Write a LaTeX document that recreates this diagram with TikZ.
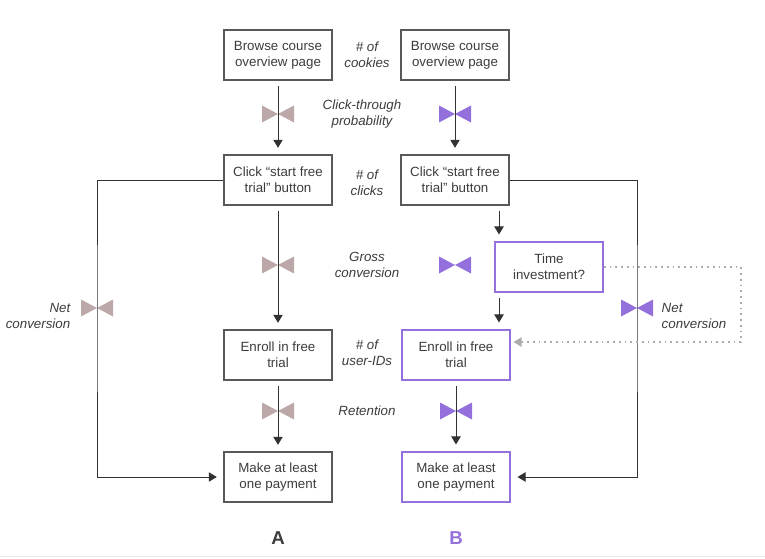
\documentclass[tikz,border=0pt]{standalone}
\usepackage{fontspec}
\setmainfont{Liberation Sans}
\definecolor{tiegray}{RGB}{188,168,168}
\definecolor{tiepurple}{RGB}{147,112,219}
\definecolor{txtgray}{RGB}{60,60,60}
\definecolor{linegray}{RGB}{50,50,50}
\usetikzlibrary{arrows.meta,calc}

\tikzset{
    box/.style={draw=black!65, line width=0.8pt, minimum width=81pt, minimum height=37.5pt, align=center, text=txtgray, font=\fontsize{10}{12}\selectfont},
    boxB/.style={box, draw=tiepurple, line width=1.3pt},
    metric/.style={align=center, text=txtgray, font=\fontsize{10}{12}\selectfont\itshape},
    arr/.style={draw=linegray, line width=0.75pt, -{Triangle[width=7pt,length=6pt]}},
    tie/.pic={\fill[#1] (-16,-8.5) -- (-16,8.5) -- (0,0) -- cycle (16,-8.5) -- (16,8.5) -- (0,0) -- cycle;}
}

\begin{document}
\begin{tikzpicture}[x=0.75pt, y=-0.75pt]
    \useasboundingbox (0,0) rectangle (765,558);
    \draw[black!8] (0,556) -- (765,556);

    % Bowties
    \pic at (278,114) {tie=tiegray};
    \pic at (278,265) {tie=tiegray};
    \pic at (278,411) {tie=tiegray};
    \pic at (97,308) {tie=tiegray};
    \pic at (455,114) {tie=tiepurple};
    \pic at (455,265) {tie=tiepurple};
    \pic at (456,411) {tie=tiepurple};
    \pic at (637,308) {tie=tiepurple};

    % Column A
    \node[box] (browseA) at (278,55) {Browse course\\overview page};
    \node[box] (clickA) at (278,180) {Click ``start free\\trial'' button};
    \node[box] (enrollA) at (278,355) {Enroll in free\\trial};
    \node[box] (makeA) at (278,477) {Make at least\\one payment};

    % Column B
    \node[box] (browseB) at (455,55) {Browse course\\overview page};
    \node[box] (clickB) at (455,180) {Click ``start free\\trial'' button};
    \node[boxB] (timeB) at (549,267) {Time\\investment?};
    \node[boxB] (enrollB) at (456,355) {Enroll in free\\trial};
    \node[boxB] (makeB) at (456,477) {Make at least\\one payment};

    % Metrics between the columns
    \node[metric] (cookies) at (367,55) {\# of\\cookies};
    \node[metric] (ctp) at (362,114) {Click-through\\probability};
    \node[metric] (clicks) at (367,183) {\# of\\clicks};
    \node[metric] (gross) at (367,265) {Gross\\conversion};
    \node[metric] (userids) at (367,353) {\# of\\user-IDs};
    \node[metric] (retention) at (367,411) {Retention};

    % Connections A
    \draw[arr, shorten <=4pt, shorten >=5pt] (browseA) -- (clickA);
    \draw[arr, shorten <=4pt, shorten >=5pt] (clickA) -- (enrollA);
    \draw[arr, shorten <=4pt, shorten >=5pt] (enrollA) -- (makeA);

    % Connections B
    \coordinate (tx) at (499,0);
    \draw[arr, shorten <=4pt, shorten >=5pt] (browseB) -- (clickB);
    \draw[arr, shorten <=4pt, shorten >=5pt] (clickB.south -| tx) -- (timeB.north -| tx);
    \draw[arr, shorten <=4pt, shorten >=5pt] (timeB.south -| tx) -- (enrollB.north -| tx);
    \draw[arr, shorten <=4pt, shorten >=5pt] (enrollB) -- (makeB);

    % Net conversion
    \coordinate (netL) at (97,308);
    \coordinate (netR) at (637,308);
    \draw[arr, shorten >=5pt] (clickA.west) -| (netL) |- (makeA.west);
    \draw[arr, shorten >=5pt] (clickB.east) -| (netR) |- (makeB.east);
    \node[metric, anchor=east, align=right] (netLtxt) at (75,316) {Net\\conversion};
    \node[metric, anchor=west, align=left] (netRtxt) at (657,316) {Net\\conversion};

    % Time investment feedback
    \coordinate (dotR) at (741,342);
    \draw[gray!65, line width=0.9pt, dash pattern=on 1.3pt off 3pt, -{Triangle[width=7pt,length=6pt]}, shorten >=2pt] (timeB.east) -| (dotR) -- (dotR -| enrollB.east);

    % Labels
    \node[font=\fontsize{14}{16}\selectfont\bfseries, text=txtgray] (labA) at (278,538) {A};
    \node[font=\fontsize{14}{16}\selectfont\bfseries, text=tiepurple] (labB) at (456,538) {B};
\end{tikzpicture}
\end{document}
